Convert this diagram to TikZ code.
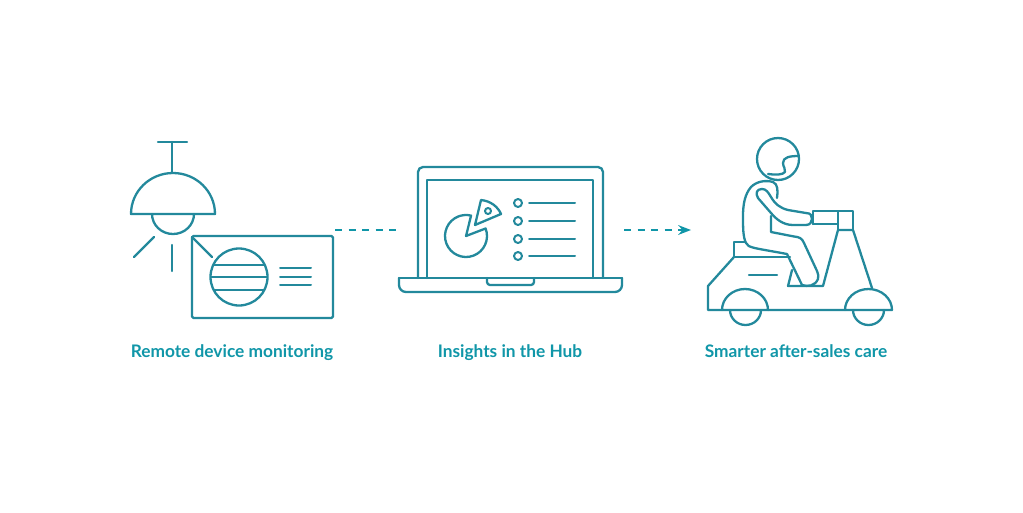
\documentclass[tikz,border=0pt]{standalone}
\usepackage{fontspec}
\setmainfont{Lato}
\usetikzlibrary{arrows.meta}
\definecolor{iconteal}{HTML}{23899C}
\definecolor{labelteal}{HTML}{1096A8}
\tikzset{
  icon/.style={draw=iconteal, line width=2.3pt, line cap=round, line join=round},
  thinicon/.style={icon, line width=2pt},
  caption/.style={text=labelteal, font=\fontsize{17.3}{20}\selectfont\bfseries, anchor=base},
  flow/.style={draw=labelteal, line width=1.9pt, dash pattern=on 7pt off 6.5pt}
}
\begin{document}
\begin{tikzpicture}[x=1pt, y=-1pt]
  \useasboundingbox (0,0) rectangle (1023,512);

  % Lamp
  \draw[icon] (158,142) -- (187,142);
  \draw[icon] (172,142) -- (172,173);
  \draw[icon] (131,214) arc (180:360:42 and 41) -- cycle;
  \draw[icon] (152,214) arc (180:0:21 and 20);
  \draw[icon] (154,237) -- (134,257);
  \draw[icon] (172,245) -- (172,271);
  \draw[icon] (192,237) -- (212,257);

  % Device
  \draw[icon, rounded corners=1.5pt] (192,236) rectangle (333,318);
  \draw[icon] (239,277) circle (28.5);
  \draw[icon] (214,265) -- (264,265);
  \draw[icon] (211,277) -- (267,277);
  \draw[icon] (214,290) -- (264,290);
  \foreach \yline in {268,277,285}
    \draw[thinicon] (280,\yline) -- (311,\yline);

  % Laptop
  \draw[icon, rounded corners=5pt] (418,278) -- (418,167) -- (603,167) -- (603,278);
  \draw[icon] (427,278) -- (427,180) -- (593,180) -- (593,278);
  \draw[icon, rounded corners=7pt] (399,278) -- (399,292) -- (622,292) -- (622,278);
  \draw[icon] (399,278) -- (622,278);
  \draw[icon, rounded corners=3pt] (487,278) -- (487,285) -- (534,285) -- (534,278);

  % Chart on the screen
  \draw[icon] (466,236) -- ++(-21:21) arc (-21:284:21) -- cycle;
  \draw[icon] (475,225) -- (481,200) .. controls (491,201) and (498,207) .. (501,214) -- cycle;
  \draw[thinicon] (488,211) circle (3);
  \foreach \ybullet in {203,221,239,256} {
    \draw[thinicon] (518,\ybullet) circle (4);
    \draw[thinicon] (529,\ybullet) -- (575,\ybullet);
  }

  % Scooter
  \draw[icon] (734,257) -- (708,286) -- (708,310) -- (892,310);
  \draw[icon] (722,310) arc (180:360:23 and 21);
  \draw[icon] (730,310) arc (180:0:15.5 and 15);
  \draw[icon] (845,310) arc (180:360:23.5 and 21);
  \draw[icon] (853,310) arc (180:0:15.5 and 15);
  \draw[icon] (749,275) -- (777,275);
  \draw[icon] (745,242) -- (734,242) -- (734,257) -- (790,257);
  \draw[icon] (792,270) -- (788,286) -- (823,286) -- (838,230) -- (853,230) -- (872,288);
  \draw[icon] (838,230) -- (838,211) -- (853,211) -- (853,230);
  \draw[icon] (813,224) -- (813,211) -- (838,211);
  \draw[icon] (813,224) -- (838,224);

  % Rider
  \draw[icon] (778,159) circle (21);
  \draw[icon] (799,156) .. controls (790,156) and (783,157) .. (783,163)
    .. controls (783,167) and (786,169) .. (785,172)
    .. controls (783,175) and (775,175) .. (768,174);
  \draw[icon] (777,198) .. controls (778,191) and (778,184) .. (773,182)
    .. controls (766,180) and (757,181) .. (751,187)
    .. controls (745,194) and (743,204) .. (743,216)
    .. controls (743,228) and (743,237) .. (746,243)
    .. controls (748,248) and (755,248) .. (787,254)
    -- (802,285) .. controls (808,287) and (815,286) .. (818,279)
    .. controls (819,276) and (818,274) .. (817,271)
    -- (804,243) .. controls (802,238) and (799,237) .. (794,236.5)
    -- (771,232) -- (771,216);
  % Arm
  \draw[icon] (758,198) .. controls (755,193) and (757,189) .. (762,189)
    .. controls (766,189) and (768,192) .. (771,197)
    .. controls (775,204) and (780,208) .. (788,210)
    -- (806,213) .. controls (811,213) and (812,216) .. (812,219)
    .. controls (812,222) and (810,225) .. (806,225)
    -- (793,225) .. controls (783,225) and (776,219) .. (771,213)
    -- cycle;

  % Links between the three steps
  \coordinate (linkstart) at (335,230);
  \coordinate (linkstop) at (398,230);
  \coordinate (arrowstart) at (624,230);
  \coordinate (arrowstop) at (691,230);
  \draw[flow] (linkstart) -- (linkstop);
  \draw[flow] (arrowstart) -- (arrowstop);
  \path[fill=labelteal] (arrowstop) -- ++(-13,-5) -- ++(4.5,5) -- ++(-4.5,5) -- cycle;

  \node[caption] (remote) at (232,357) {Remote device monitoring};
  \node[caption] (hub) at (510,357) {Insights in the Hub};
  \node[caption] (care) at (796,357) {Smarter after-sales care};
\end{tikzpicture}
\end{document}
